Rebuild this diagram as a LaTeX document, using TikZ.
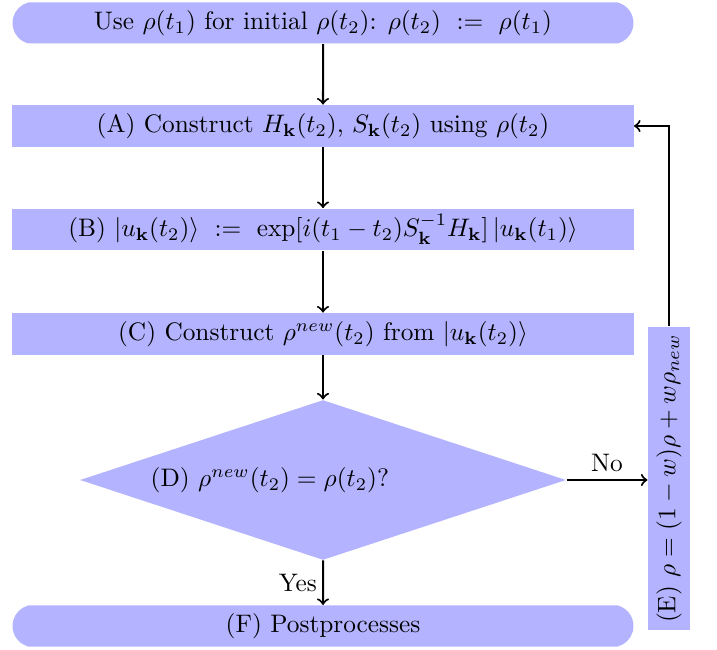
\documentclass[tikz,border=0pt]{standalone}
\usetikzlibrary{shapes.geometric,shapes.misc}
\definecolor{boxfill}{RGB}{179,179,255}
\begin{document}
\begin{tikzpicture}[x=0.395pt,y=-0.395pt,
  every node/.style={inner sep=0pt, font=\normalsize},
  boxnode/.style={rectangle, fill=boxfill, minimum width=245.3pt, minimum height=16.5pt},
  termnode/.style={rounded rectangle, rounded rectangle arc length=150, fill=boxfill, minimum width=245.3pt, minimum height=16.2pt},
  decnode/.style={diamond, shape aspect=3, fill=boxfill, minimum width=192pt, minimum height=63.2pt},
  sidenode/.style={rectangle, fill=boxfill, rotate=90, minimum width=119.7pt, minimum height=16.6pt},
  conn/.style={->, thick}]
\useasboundingbox (0,0) rectangle (717,650);
\node[termnode] (s) at (323,23) {Use $\rho(t_1)$ for initial $\rho(t_2)$: $\rho(t_2)\ :=\ \rho(t_1)$};
\node[boxnode] (a) at (323,126) {(A) Construct $H_{\mathbf{k}}(t_2)$, $S_{\mathbf{k}}(t_2)$ using $\rho(t_2)$};
\node[boxnode] (b) at (323,229.5) {(B) $|u_{\mathbf{k}}(t_2)\rangle\ :=\ \exp[i(t_1-t_2)S_{\mathbf{k}}^{-1}H_{\mathbf{k}}]\,|u_{\mathbf{k}}(t_1)\rangle$};
\node[boxnode] (c) at (323,334) {(C) Construct $\rho^{new}(t_2)$ from $|u_{\mathbf{k}}(t_2)\rangle$};
\node[decnode] (d) at (323,480) {(D) $\rho^{new}(t_2)=\rho(t_2)$?\rule{42pt}{0pt}};
\node[termnode] (f) at (323,626) {(F) Postprocesses};
\node[sidenode] (e) at (669,478.5) {(E) $\rho=(1-w)\rho+w\rho_{new}$};
\draw[conn] (s) -- (a);
\draw[conn] (a) -- (b);
\draw[conn] (b) -- (c);
\draw[conn] (c) -- (d);
\draw[conn] (d.east) -- node[above=3pt] {No} (d.east -| e.north);
\draw[conn] (d) -- node[left=2pt] {Yes} (f);
\draw[conn] (e.east) |- (a.east);
\end{tikzpicture}
\end{document}
